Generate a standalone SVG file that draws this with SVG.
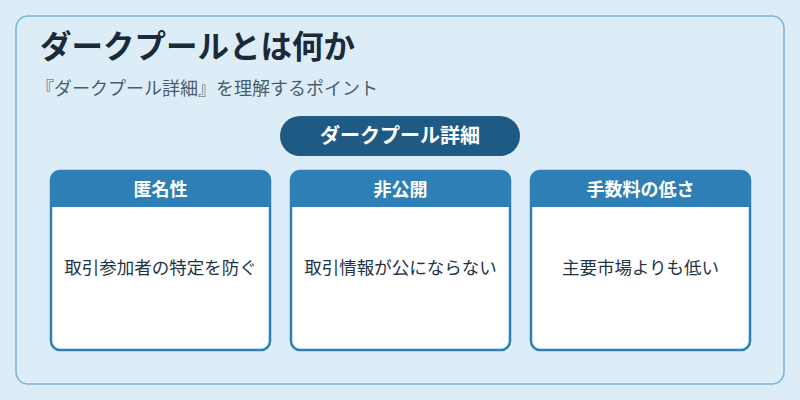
<svg xmlns="http://www.w3.org/2000/svg" width="800" height="400" viewBox="0 0 800 400">
<style>
text{font-family:"Noto Sans CJK JP","Noto Sans",sans-serif}
.hd{fill:#2e7fb5}
.bd{fill:#fff;stroke:#2e7fb5;stroke-width:2.5}
.ht{fill:#fff;font-size:18px;font-weight:bold;text-anchor:middle}
.bt{fill:#1e3444;font-size:17.5px;text-anchor:middle}
</style>
<rect width="800" height="400" fill="#ddedf8"/>
<rect x="16" y="16" width="768" height="368" rx="12" fill="#ddedf8" stroke="#7ab3d6" stroke-width="1.5"/>
<text x="40" y="58" font-size="31.5" font-weight="bold" fill="#1a2a38">ダークプールとは何か</text>
<text x="36" y="95" font-size="18" fill="#4a5d6c">『ダークプール詳細』を理解するポイント</text>
<g id="title-pill"><rect x="280" y="116" width="240" height="40" rx="20" fill="#1f5a85"/><text x="400" y="143" class="ht" style="font-size:20px">ダークプール詳細</text></g>
<g id="card1"><rect class="bd" x="51" y="171" width="219" height="179" rx="9"/><path class="hd" d="M51 207V180a9 9 0 0 1 9-9H261a9 9 0 0 1 9 9V207Z"/><text class="ht" x="160.5" y="196">匿名性</text><text class="bt" x="160.5" y="274">取引参加者の特定を防ぐ</text></g>
<g id="card2"><rect class="bd" x="291" y="171" width="219" height="179" rx="9"/><path class="hd" d="M291 207V180a9 9 0 0 1 9-9H501a9 9 0 0 1 9 9V207Z"/><text class="ht" x="400.5" y="196">非公開</text><text class="bt" x="400.5" y="274">取引情報が公にならない</text></g>
<g id="card3"><rect class="bd" x="531" y="171" width="219" height="179" rx="9"/><path class="hd" d="M531 207V180a9 9 0 0 1 9-9H741a9 9 0 0 1 9 9V207Z"/><text class="ht" x="640.5" y="196">手数料の低さ</text><text class="bt" x="640.5" y="274">主要市場よりも低い</text></g>
</svg>
